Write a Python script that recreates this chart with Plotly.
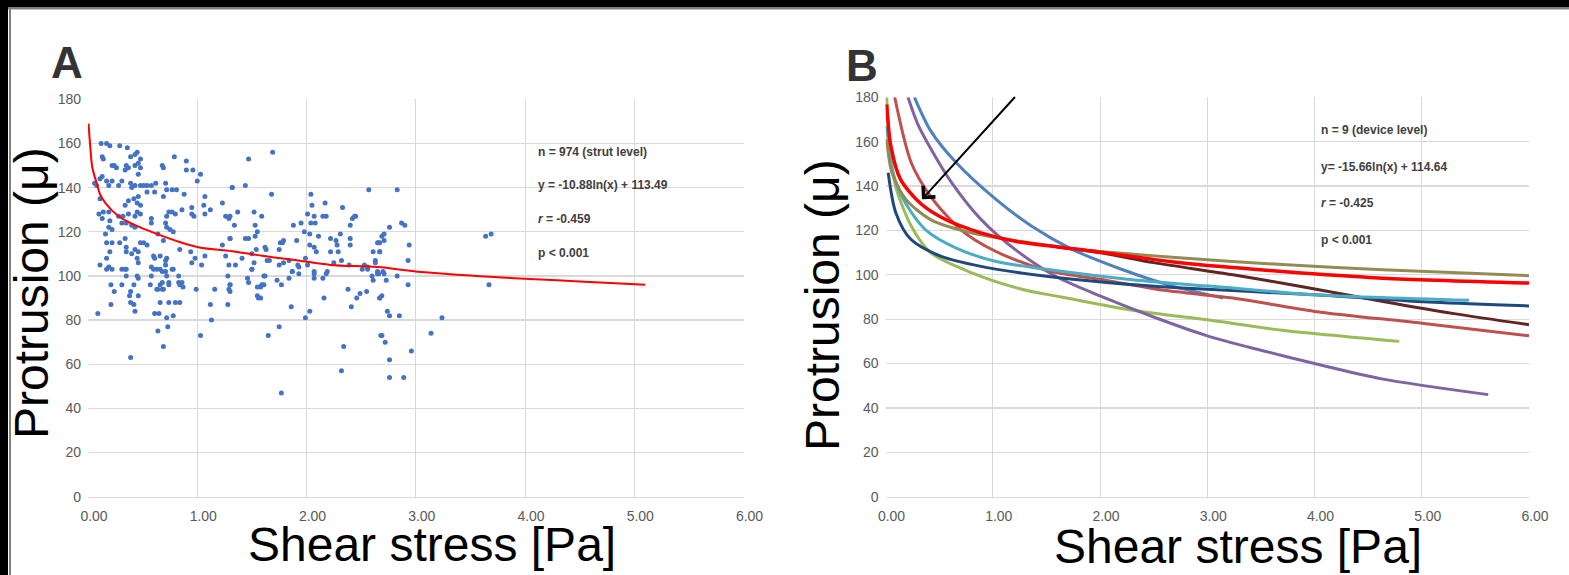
import plotly.graph_objects as go

# ---------------- Panel A: strut-level scatter ----------------
shear_strut = [
    0.12,0.17,0.20,0.29,0.36,0.45,0.43,0.39,0.13,0.14,0.48,0.46,0.79,0.90,0.90,0.96,1.03,1.00,0.68,0.69,
    0.22,0.26,0.24,0.35,0.37,0.43,0.48,0.34,0.46,0.13,0.11,0.17,0.22,0.28,0.31,0.39,0.40,0.43,0.48,0.51,
    0.54,0.58,0.62,0.19,0.08,0.06,0.71,0.72,0.77,0.81,0.69,0.61,0.54,0.88,1.07,1.32,0.11,0.37,0.42,0.46,
    0.45,0.34,0.48,1.23,1.06,1.12,0.95,1.07,0.10,0.14,0.19,0.13,0.20,0.28,0.32,0.37,0.45,0.43,0.48,0.74,
    0.77,0.80,0.72,0.86,0.95,0.97,1.26,1.29,0.19,0.16,0.22,0.31,0.35,0.40,0.43,0.58,0.58,0.71,0.72,0.75,
    0.78,0.64,0.69,0.17,0.22,0.29,0.34,0.35,0.48,0.51,0.54,0.43,0.46,0.84,1.23,1.30,0.20,0.35,0.40,0.45,
    0.60,0.61,0.66,0.72,0.71,0.71,0.94,0.95,0.98,1.04,1.07,1.26,1.29,0.17,0.11,0.19,0.31,0.34,0.46,0.58,
    0.63,0.78,0.68,
    0.17,0.22,0.35,0.35,0.46,0.45,0.58,0.71,0.72,0.83,0.60,0.66,0.77,0.21,0.31,0.42,0.57,0.66,0.68,0.74,
    0.74,0.83,0.86,0.84,0.87,0.64,0.68,0.63,0.69,0.39,0.24,0.46,0.38,0.99,1.16,1.29,1.30,1.28,0.09,0.21,
    0.39,0.42,0.43,0.61,0.65,0.66,0.74,0.80,0.84,0.72,0.78,1.12,1.13,1.28,0.64,0.73,1.03,0.69,0.39,
    1.47,1.69,1.32,1.44,1.68,2.04,2.05,2.17,2.33,2.57,1.37,1.52,1.59,1.30,1.34,1.53,1.55,1.88,1.95,2.01,
    2.04,2.07,2.08,2.15,2.18,2.44,2.45,2.42,2.40,1.98,2.03,2.11,2.31,1.30,1.44,1.47,1.53,1.54,1.62,1.63,
    1.76,1.78,1.79,1.75,1.91,2.03,2.07,2.09,2.22,2.27,2.28,2.22,2.29,2.40,2.40,2.65,2.67,2.61,2.67,1.35,
    1.50,1.52,1.50,1.41,1.64,1.66,1.79,1.84,1.75,1.87,1.92,1.93,1.99,2.01,2.07,2.19,2.25,2.32,2.39,2.53,
    2.56,2.63,
    1.50,1.61,1.62,1.46,1.47,1.55,1.58,1.59,1.61,1.55,1.56,1.58,1.73,1.77,1.84,1.87,1.93,2.07,2.07,2.15,
    2.18,2.51,2.56,2.60,2.61,2.66,1.30,1.30,2.38,2.49,2.55,2.46,2.41,2.16,2.67,1.86,2.03,1.99,1.75,1.65,
    2.34,2.32,1.77,2.68,
    2.83,2.76,2.87,2.90,2.71,2.69,2.66,2.71,2.94,2.67,2.93,2.63,2.65,2.70,3.64,3.69,
    2.65,2.71,2.73,2.83,2.93,3.67,2.69,2.67,2.74,2.76,2.85,3.24,3.14,2.69,2.72,2.96,2.76,2.76,2.89,
]
protrusion_strut = [
    160,160,159,159,158,156,155,154,154,153,153,151,154,152,148,148,146,143,150,149,
    150,149,150,150,149,150,149,148,146,145,144,143,143,141,143,142,140,141,141,141,
    141,141,142,141,141,142,142,139,139,139,136,138,138,137,136,140,135,134,135,136,
    133,132,132,133,132,130,131,128,128,129,129,126,125,127,127,128,129,127,128,129,
    129,128,127,130,128,127,127,126,122,119,121,124,124,123,122,124,126,124,122,121,
    120,119,116,115,115,115,117,113,115,115,114,112,111,112,114,117,111,111,110,108,
    109,108,109,108,107,105,111,106,108,105,109,109,105,108,105,104,103,103,106,104,
    103,103,102,
    103,103,103,100,99,100,100,102,100,100,103,103,103,96,96,96,96,96,97,97,
    96,97,97,96,95,94,94,94,94,93,93,91,91,94,94,94,96,100,83,87,
    88,87,84,83,83,88,88,88,88,81,82,87,80,87,75,77,73,68,63,
    153,156,140,141,137,137,132,133,131,139,129,129,127,127,123,123,120,123,124,128,
    124,127,124,127,127,127,127,126,123,120,119,118,119,117,117,117,118,112,113,112,
    115,115,116,112,116,114,113,111,117,116,114,111,111,117,114,115,115,111,111,105,
    110,106,103,108,107,107,106,107,105,102,105,104,108,105,102,102,106,107,105,105,
    104,106,
    103,100,100,99,97,95,95,96,96,91,90,90,98,96,99,102,101,101,99,99,
    101,103,103,100,98,101,96,93,94,92,93,90,86,90,90,86,84,81,77,73,
    68,57,47,73,
    139,122,124,123,119,118,115,116,114,111,107,107,102,102,118,119,
    101,101,98,100,96,96,91,90,84,82,82,81,74,73,70,66,62,54,54,
]
fit_a_x = [0.005, 0.02, 0.04, 0.08, 0.11, 0.16, 0.28, 0.43, 0.58, 0.80, 1.01, 1.35, 1.61, 1.92, 2.22, 2.65, 3.0, 3.55, 3.9, 4.5, 5.1]
fit_a_y = [169, 159, 149, 142, 137, 133, 127, 123, 120, 116, 113, 111, 109, 107, 105, 104, 102, 100, 99, 97.5, 96]

# ---------------- Panel B: device-level fitted curves ----------------
green_x  = [0.011, 0.05, 0.10, 0.24, 0.42, 0.80, 1.27, 1.64, 2.30, 3.00, 3.70, 4.79]
green_y  = [180, 153, 139, 122, 110, 101, 93.5, 90, 84, 79.7, 75, 70]
purple_x = [0.21, 0.30, 0.42, 0.61, 0.89, 1.22, 1.60, 2.00, 2.50, 3.00, 3.50, 4.00, 4.64, 5.62]
purple_y = [180, 168, 157, 142, 125, 111, 99, 90.5, 81, 72.5, 66, 60, 53, 46]
blue_x   = [0.27, 0.42, 0.66, 1.03, 1.36, 1.74, 2.20, 2.67, 3.15]
blue_y   = [180, 165, 150.5, 134, 122, 111.5, 102.5, 95, 89.5]
ired_x   = [0.086, 0.24, 0.42, 0.70, 1.03, 1.50, 2.06, 2.60, 3.24, 4.00, 5.00, 6.00]
ired_y   = [180, 150.5, 135.4, 120.4, 110.5, 102, 97.5, 93, 89.5, 83.5, 78.2, 72.5]
cyan_x   = [0.011, 0.07, 0.19, 0.38, 0.66, 1.03, 1.50, 2.30, 3.05, 4.00, 5.44]
cyan_y   = [167, 146, 132, 120, 112, 106, 102.5, 97.8, 94.8, 91, 88.5]
navy_x   = [0.025, 0.096, 0.236, 0.52, 0.89, 1.50, 2.06, 2.77, 4.00, 5.11, 6.00]
navy_y   = [146, 128, 116, 108.3, 103.8, 99.3, 96.5, 94, 91, 87.6, 86]
brown_x  = [1.60, 2.02, 2.50, 3.24, 3.90, 4.64, 5.30, 6.00]
brown_y  = [112.5, 109.8, 105.5, 100, 94.5, 88, 82.5, 77.5]
olive_x  = [0.011, 0.06, 0.19, 0.42, 0.80, 1.27, 1.83, 2.77, 3.70, 4.64, 6.00]
olive_y  = [161, 146, 134, 124.9, 118.9, 115, 111.3, 107.6, 104.6, 102.3, 99.6]
red_b_x  = [0.011, 0.05, 0.14, 0.33, 0.56, 0.89, 1.22, 1.83, 2.77, 3.70, 4.64, 6.00]
red_b_y  = [176.8, 158, 143, 132, 124.9, 118.9, 115, 111.3, 105.3, 101.5, 98.5, 96.3]

x_ticks = [0, 1, 2, 3, 4, 5, 6]
y_ticks = [0, 20, 40, 60, 80, 100, 120, 140, 160, 180]

stats_a = ["n = 974 (strut level)", "y = -10.88ln(x) + 113.49", "<i>r</i> = -0.459", "p < 0.001"]
stats_b = ["n = 9 (device level)", "y= -15.66ln(x) + 114.64", "<i>r</i> = -0.425", "p < 0.001"]

W, H = 1569, 575
def px(x): return x / W
def py(y): return 1 - y / H

fig = go.Figure()

fig.add_trace(go.Scatter(x=shear_strut, y=protrusion_strut, mode="markers",
                         marker=dict(color="#4472C4", size=5, line=dict(width=0)),
                         xaxis="x", yaxis="y", showlegend=False))
fig.add_trace(go.Scatter(x=fit_a_x, y=fit_a_y, mode="lines", line=dict(color="#FF0000", width=2, shape="spline"),
                         xaxis="x", yaxis="y", showlegend=False))

curves = [
    (brown_x, brown_y, "#632523", 3),
    (green_x, green_y, "#9BBB59", 3),
    (purple_x, purple_y, "#8064A2", 3),
    (blue_x, blue_y, "#4F81BD", 3),
    (ired_x, ired_y, "#C0504D", 3),
    (navy_x, navy_y, "#1F497D", 3),
    (cyan_x, cyan_y, "#4BACC6", 3),
    (olive_x, olive_y, "#948A54", 3),
    (red_b_x, red_b_y, "#FF0000", 3.5),
]
for cx, cy, col, w in curves:
    fig.add_trace(go.Scatter(x=cx, y=cy, mode="lines", line=dict(color=col, width=w, shape="spline", smoothing=0.8),
                             xaxis="x2", yaxis="y2", showlegend=False))

tickfont = dict(family="Liberation Sans, Arial, sans-serif", size=14, color="#595959")
common_x = dict(range=[0, 6], tickvals=x_ticks, tickformat=".2f", showgrid=True, gridcolor="#D9D9D9", gridwidth=1,
                zeroline=False, showline=True, linecolor="#D9D9D9", linewidth=1, ticks="", tickfont=tickfont,
                ticklabelstandoff=6, ticklabelshift=6, fixedrange=True, automargin=False)
common_y = dict(range=[0, 180], tickvals=y_ticks, showgrid=True, gridcolor="#D9D9D9", gridwidth=1.3,
                zeroline=False, showline=False, ticks="", tickfont=tickfont, ticklabelstandoff=6, fixedrange=True,
                automargin=False)

fig.update_layout(
    width=W, height=H, autosize=False,
    margin=dict(l=0, r=0, t=0, b=0, pad=0),
    paper_bgcolor="white", plot_bgcolor="white",
    xaxis=dict(domain=[px(88), px(743.5)], anchor="y", **common_x),
    yaxis=dict(domain=[py(496.7), py(99.3)], anchor="x", **common_y),
    xaxis2=dict(domain=[px(885.5), px(1529)], anchor="y2", **common_x),
    yaxis2=dict(domain=[py(496.7), py(97.3)], anchor="x2", **common_y),
)

ann = []
stat_font = dict(family="Liberation Sans, Arial, sans-serif", size=12, color="#404040")
for t, yy in zip(stats_a, [152, 185, 219, 253]):
    ann.append(dict(x=px(536), y=py(yy), xref="paper", yref="paper", text="<b>" + t + "</b>", showarrow=False,
                    xanchor="left", yanchor="middle", font=stat_font))
for t, yy in zip(stats_b, [130, 167, 203, 240]):
    ann.append(dict(x=px(1319), y=py(yy), xref="paper", yref="paper", text="<b>" + t + "</b>", showarrow=False,
                    xanchor="left", yanchor="middle", font=stat_font))

title_font = dict(family="Liberation Sans, Arial, sans-serif", size=48, color="black")
ann.append(dict(x=px(31), y=py(293), xref="paper", yref="paper", text="Protrusion (μ)", textangle=-90,
                showarrow=False, xanchor="center", yanchor="middle", font=title_font))
ann.append(dict(x=px(822), y=py(305), xref="paper", yref="paper", text="Protrusion (μ)", textangle=-90,
                showarrow=False, xanchor="center", yanchor="middle", font=title_font))
ann.append(dict(x=px(432), y=py(544), xref="paper", yref="paper", text="Shear stress [Pa]",
                showarrow=False, xanchor="center", yanchor="middle", font=title_font))
ann.append(dict(x=px(1238), y=py(546), xref="paper", yref="paper", text="Shear stress [Pa]",
                showarrow=False, xanchor="center", yanchor="middle", font=title_font))

label_font = dict(family="Liberation Sans, Arial, sans-serif", size=44, color="#333333")
ann.append(dict(x=px(67), y=py(63), xref="paper", yref="paper", text="<b>A</b>", showarrow=False,
                xanchor="center", yanchor="middle", font=label_font))
ann.append(dict(x=px(862), y=py(66), xref="paper", yref="paper", text="<b>B</b>", showarrow=False,
                xanchor="center", yanchor="middle", font=label_font))

# arrow in panel B
ann.append(dict(x=0.34, y=134, xref="x2", yref="y2", ax=1.22, ay=180.8, axref="x2", ayref="y2",
                text="", showarrow=True, arrowhead=4, arrowsize=1.6, arrowwidth=2, arrowcolor="black"))

fig.update_layout(annotations=ann)

shapes = [
    dict(type="rect", xref="paper", yref="paper", x0=0, x1=1, y0=py(7.5), y1=1, fillcolor="black", line=dict(width=0), layer="above"),
    dict(type="rect", xref="paper", yref="paper", x0=0, x1=px(8), y0=0, y1=1, fillcolor="black", line=dict(width=0), layer="above"),
    dict(type="line", xref="paper", yref="paper", x0=px(8), x1=1, y0=py(8.5), y1=py(8.5), line=dict(color="#808080", width=2), layer="above"),
    dict(type="line", xref="paper", yref="paper", x0=px(10), x1=px(10), y0=0, y1=py(8), line=dict(color="#808080", width=2), layer="above"),
]
fig.update_layout(shapes=shapes)

fig.write_html("out.html", config={"displayModeBar": False, "staticPlot": True},
               post_script="document.body.style.margin='0';document.body.style.overflow='hidden';")
